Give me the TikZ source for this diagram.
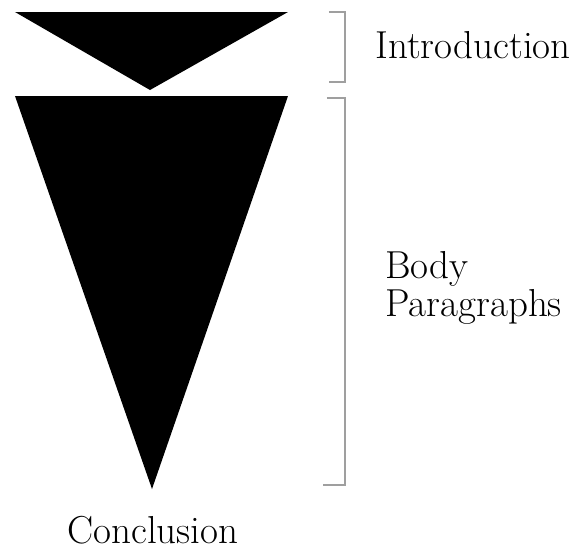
\documentclass[tikz,border=0pt]{standalone}
\usepackage{tikz}
\usetikzlibrary{positioning}
\tikzstyle{label} = [font=\fontsize{19.5}{22}\selectfont, inner sep=0pt]
\tikzstyle{brace} = [draw=gray!75, line width=1.1pt]

\begin{document}
\begin{tikzpicture}[x=0.5pt, y=-0.5pt]
    \useasboundingbox (0,0) rectangle (570,554);

    % Funnel
    \fill[black] (15,12) -- (288,12) -- (150,90) -- cycle;
    \fill[black] (15,96) -- (288,96) -- (152,489) -- cycle;

    % Brackets
    \coordinate (i1) at (329,12);
    \coordinate (i2) at (329,82);
    \coordinate (b1) at (327,98);
    \coordinate (b2) at (323,485);
    \draw[brace] (i1) -- (345,12) -- (345,82) -- (i2);
    \draw[brace] (b1) -- (345,98) -- (345,485) -- (b2);

    % Labels
    \node[label, anchor=base west] (intro) at (375,58) {Introduction};
    \node[label, anchor=base west] (body) at (385,278) {Body};
    \node[label, anchor=base west] (paras) at (385,316) {Paragraphs};
    \node[label, anchor=base] (concl) at (153,543) {Conclusion};
\end{tikzpicture}
\end{document}
